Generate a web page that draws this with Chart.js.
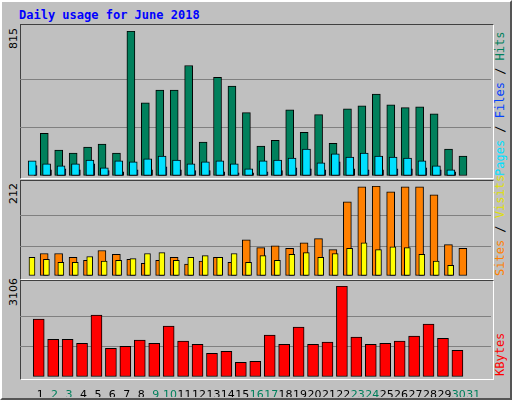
<!DOCTYPE html>
<html><head><meta charset="utf-8">
<script src="https://cdn.jsdelivr.net/npm/chart.js@4/dist/chart.umd.min.js"></script>
<style>
html,body{margin:0;padding:0}
#page{position:relative;width:508px;height:396px;background:#c0c0c0;border:2px solid;border-color:#fff #555 #555 #fff;overflow:hidden}
.frame{position:absolute;left:18px;width:472px;border:1px solid;border-color:#404040 #fff #fff #404040}
canvas{position:absolute}
.txt{position:absolute;font-family:"DejaVu Sans Mono",monospace;font-size:12px;white-space:nowrap;transform-origin:0 0;transform:rotate(-90deg)}
.ylab{position:absolute;font-family:"DejaVu Sans",sans-serif;font-size:11px;transform-origin:0 0;transform:rotate(-90deg)}
</style></head><body>
<div id="page">
<div style="position:absolute;left:17px;top:6px;font:bold 12px 'DejaVu Sans Mono',monospace;color:#0000ff">Daily usage for June 2018</div>
<div class="frame" style="top:22px;height:153px"></div>
<div class="frame" style="top:178px;height:98px"></div>
<div class="frame" style="top:278px;height:98px"></div>
<canvas id="c1" style="left:18px;top:23px;width:471px;height:152px"></canvas>
<canvas id="c2" style="left:18px;top:179px;width:471px;height:97px"></canvas>
<canvas id="c3" style="left:18px;top:279px;width:471px;height:117px"></canvas>
<div class="ylab" style="left:5px;top:47px">815</div>
<div class="ylab" style="left:5px;top:202px">212</div>
<div class="ylab" style="left:5px;top:304px">3106</div>
<div class="txt" style="left:491px;top:174px"><span style="color:#00e0ff">Pages</span><span style="color:#000"> / </span><span style="color:#0040ff">Files</span><span style="color:#000"> / </span><span style="color:#00805c">Hits</span></div>
<div class="txt" style="left:491px;top:274px"><span style="color:#ff8000">Sites</span><span style="color:#000"> / </span><span style="color:#e0e000">Visits</span></div>
<div class="txt" style="left:491px;top:374px"><span style="color:#ff0000">KBytes</span></div>
</div>
<script>
const days = Array.from({length: 31}, (_, i) => i + 1)
const weekend = [2, 3, 9, 10, 16, 17, 23, 24, 30, 31]
const hits = [240,146,129,162,179,129,815,411,483,483,621,190,555,505,356,168,201,372,245,345,184,378,395,461,400,384,389,350,151,112,null]
const files = [59,35,40,35,68,30,24,35,35,52,35,30,30,24,18,18,24,30,46,40,35,79,40,35,35,40,40,46,35,24,null]
const pages = [85,68,57,68,90,46,85,79,96,112,90,68,79,85,68,41,85,90,101,151,74,124,107,129,112,107,101,85,57,35,null]
const visits = [44,39,32,32,46,35,37,41,53,55,37,44,48,44,53,32,48,37,51,55,44,53,65,78,62,69,67,51,35,25,null]
const sites = [53,53,44,37,60,51,39,30,37,44,28,35,44,32,85,67,71,65,78,88,62,175,210,212,198,210,210,191,74,65,null]
const kbytes = [1975,1290,1290,1153,2112,982,1050,1256,1153,1736,1222,1119,811,879,502,537,1427,1119,1701,1119,1188,3106,1359,1119,1153,1222,1393,1804,1324,913,null]
const maxTop = 815, maxMid = 212, maxBot = 3106

const xMin = 0.129, xMax = 31.7

function pts(vals, off) {
    return vals.map((v, i) => ({x: days[i] + off, y: v}))
}

function ds(vals, off, color, width, order) {
    return {data: pts(vals, off), backgroundColor: color, borderColor: '#000', borderWidth: 1,
        barThickness: width, order: order, borderSkipped: false}
}

function yScale(max) {
    return {
        min: 0, max: max,
        afterBuildTicks: s => { s.ticks = [0, max / 3, 2 * max / 3, max].map(v => ({value: v})) },
        afterFit: s => { s.width = 0 },
        ticks: {display: false},
        border: {display: false},
        grid: {drawTicks: false, lineWidth: 1,
            color: c => (c.index === 1 || c.index === 2) ? '#808080' : 'rgba(0,0,0,0)'}
    }
}

function xScale(showTicks) {
    return {
        type: 'linear', min: xMin, max: xMax,
        afterBuildTicks: s => { s.ticks = days.map(v => ({value: v})) },
        afterFit: s => { s.height = showTicks ? 20 : 0 },
        grid: {display: false}, border: {display: false},
        ticks: {display: showTicks, maxRotation: 0, autoSkip: false, padding: 4,
            font: {family: 'DejaVu Sans', size: 11},
            color: c => weekend.includes(c.tick.value) ? '#00805c' : '#000',
            callback: v => String(v)}
    }
}

function makeChart(id, datasets, max, showTicks, pad) {
    new Chart(document.getElementById(id), {
        type: 'bar',
        data: {datasets: datasets},
        options: {
            responsive: false, animation: false, devicePixelRatio: 1,
            layout: {padding: pad},
            plugins: {legend: {display: false}, tooltip: {enabled: false}},
            scales: {x: xScale(showTicks), y: yScale(max)}
        }
    })
}

for (const id of ['c1', 'c2', 'c3']) {
    const c = document.getElementById(id)
    c.width = parseInt(c.style.width); c.height = parseInt(c.style.height)
}

makeChart('c1', [
    ds(hits, -0.27, '#00805c', 8, 3),
    ds(files, -0.32, '#0040ff', 3, 2),
    ds(pages, 0, '#00e0ff', 8, 1)
], maxTop, false, {top: 6, bottom: 1, left: 0, right: 0})

makeChart('c2', [
    ds(sites, 0, '#ff8000', 8, 2),
    ds(visits, -0.36, '#ffff00', 6, 1)
], maxMid, false, {top: 5, bottom: 2, left: 0, right: 0})

makeChart('c3', [
    ds(kbytes, -0.1, '#ff0000', 11, 1)
], maxBot, true, {top: 5, bottom: 1, left: 0, right: 0})
</script>
</body></html>
